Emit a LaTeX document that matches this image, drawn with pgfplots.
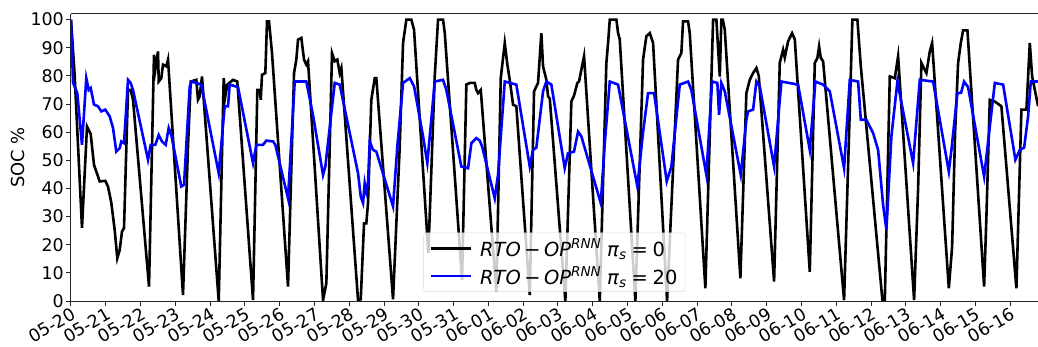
\documentclass[border=0pt]{standalone}
\usepackage{fontspec}
\setmainfont{DejaVu Sans}
\usepackage{pgfplots}
\pgfplotsset{compat=1.18}
\newcommand{\leg}[1]{\textit{RTO}\hspace{0.18em}−\hspace{0.18em}\textit{OP}\textsuperscript{\textit{RNN}}\hspace{0.3em}\textit{π}\textsubscript{\textit{s}}\hspace{0.25em}=\hspace{0.25em}#1}
\pgfplotstableread{
x y
0 100
0.106 80
0.316 26
0.460 62
0.566 59.4
0.661 48.4
0.825 42.5
0.986 42.7
1.064 40.7
1.159 34.9
1.256 25.3
1.331 15.2
1.400 18.1
1.466 24.7
1.524 25.9
1.639 75
1.716 75
1.783 71.5
2.243 5.1
2.386 87.5
2.424 82.2
2.501 88.7
2.522 78
2.596 79.2
2.645 84
2.740 83.4
2.789 85.8
3.220 2.1
3.364 55
3.442 78
3.603 78.6
3.651 71.5
3.700 72.7
3.766 79.8
4.247 0
4.390 79.2
4.436 72.7
4.494 76.9
4.658 78.6
4.781 78
5.233 0.3
5.357 75
5.434 75
5.454 71.5
5.492 80.4
5.587 81
5.635 99.4
5.693 99.4
5.779 88.1
6.239 5.1
6.412 81
6.478 85.8
6.527 92.9
6.622 93.5
6.699 85.8
6.765 84
6.814 85.2
7.246 0.3
7.341 6.3
7.504 88.1
7.582 85.2
7.657 85.8
7.726 81
7.772 82.8
8.252 0.3
8.330 0.6
8.424 27.6
8.490 27.6
8.539 34.8
8.634 71.5
8.732 79.2
8.778 79.2
9.258 0.6
9.451 55
9.546 91.7
9.641 100
9.784 100
9.862 96.4
10.273 17
10.457 79.8
10.552 100
10.696 100
10.745 95.3
11.242 7.5
11.366 76.9
11.463 77.5
11.607 77.5
11.653 75
11.702 73.9
11.780 75
12.228 3.3
12.355 79.2
12.421 86.4
12.470 91.7
12.545 84
12.613 78.6
12.708 69.8
12.803 69.2
13.189 2.1
13.312 74.5
13.427 77.5
13.522 95.2
13.571 83.4
13.666 78.6
13.715 72.7
13.764 72
14.212 0
14.385 70.9
14.462 73
14.557 77.5
14.606 78
14.672 82.2
14.750 87
15.201 0
15.391 84.6
15.440 91.7
15.489 100
15.679 100
15.727 95.3
15.776 92.9
16.225 0
16.446 85.8
16.541 94.1
16.639 95.2
16.734 91.7
17.136 0
17.452 85.8
17.547 88.1
17.596 99.4
17.740 99.4
17.789 95
18.237 4.5
18.459 100
18.554 100
18.602 90
18.652 79.8
18.697 100
18.738 100
18.795 96.4
19.244 8.1
19.416 73.9
19.514 78.6
19.609 81
19.704 82.8
19.773 80
20.213 6.9
20.376 84.6
20.472 89.3
20.520 86.5
20.615 92.3
20.730 95.2
20.808 93
21.239 10.4
21.383 84.6
21.458 86.4
21.507 90.5
21.555 86.4
21.622 85.2
22.225 0.3
22.389 68
22.464 100
22.608 100
22.706 83.4
23.327 0.3
23.396 0.3
23.539 79.8
23.683 79.2
23.778 87
24.238 0.3
24.353 40
24.448 84.6
24.592 81
24.689 88.7
24.756 91.7
25.236 4.5
25.331 19.3
25.417 60
25.503 84.6
25.580 91.7
25.647 96.2
25.771 96.2
26.251 5.1
26.317 30
26.414 71.5
26.558 70.9
26.748 69.2
27.179 4.5
27.323 68
27.467 68
27.564 91.7
27.631 79.8
27.688 76.3
27.803 69.2
}\blacktab
\pgfplotstableread{
x y
0 100
0.058 77.6
0.181 73.9
0.316 55.5
0.440 79.2
0.509 75
0.566 75.7
0.661 69.8
0.776 69.2
0.871 67.4
0.986 68
1.113 65.6
1.208 61.5
1.302 53.1
1.400 54.3
1.446 56.7
1.524 56.1
1.639 78.6
1.716 77.5
1.783 75
2.214 50.2
2.292 55.5
2.424 55.5
2.522 59
2.616 56.7
2.723 55.5
2.809 61.5
2.884 59
3.171 40.7
3.249 41.3
3.413 76.3
3.479 78
3.746 76.9
4.247 45.4
4.419 69.2
4.514 69.2
4.563 76.9
4.802 76
5.233 49
5.328 55.5
5.520 55.5
5.615 57
5.808 56.7
5.874 55.5
6.239 36.5
6.432 78
6.765 78
6.958 66
7.246 44.8
7.312 47.8
7.582 77.5
7.726 76.9
8.252 45.4
8.330 37.1
8.396 34.8
8.444 41.9
8.490 38.9
8.539 42
8.588 56.7
8.683 53.7
8.778 53.1
9.258 33.6
9.382 55
9.546 77.5
9.738 79.2
9.862 76.3
10.121 58.5
10.244 49
10.457 78
10.696 78.6
10.791 75
11.222 47.8
11.415 47.2
11.510 56.1
11.653 57.9
11.751 57
11.817 55
12.182 36.5
12.277 45
12.470 78
12.803 76.9
13.189 47.8
13.283 53.7
13.378 54.5
13.571 74.5
13.666 78
13.810 76.9
14.194 47.2
14.289 52.5
14.462 53.1
14.577 60.2
14.672 58.5
15.230 34.8
15.345 56
15.489 78
15.727 76.9
16.282 40.7
16.446 60
16.590 73.9
16.763 73.9
17.127 42.5
17.260 47.8
17.501 76.9
17.740 78
17.835 75
18.266 44.8
18.430 78
18.582 77.5
18.631 66.2
18.697 77.5
18.795 74.5
19.255 44.8
19.416 64.4
19.465 67.4
19.609 68
19.704 78
19.801 76.3
20.213 47.8
20.423 78
20.903 76.9
21.239 53.7
21.400 78
21.622 76.9
21.815 74.5
22.225 47.2
22.389 78.6
22.628 78
22.706 64.4
22.866 64.4
23.059 59.7
23.203 53.7
23.346 34.2
23.442 25.3
23.585 58.5
23.758 78
24.209 49
24.402 78.6
24.784 78
25.236 46
25.311 53.7
25.483 73.9
25.589 74
25.675 78
25.790 76
26.251 44.2
26.558 77.5
26.797 76.9
27.150 50.2
27.277 53.7
27.401 54.5
27.515 65.6
27.593 78
27.803 78
}\bluetab
\begin{document}
\begin{tikzpicture}
\begin{axis}[
  scale only axis,
  width=967bp, height=287bp,
  xmin=0, xmax=27.8, ymin=0, ymax=102,
  axis x line*=bottom, axis y line*=left,
  axis line style={black!85, line width=1bp},
  tick style={black!85, line width=1bp},
  tick align=outside, major tick length=5bp,
  xtick={0,1,...,27},
  xticklabels={05-20,05-21,05-22,05-23,05-24,05-25,05-26,05-27,05-28,05-29,05-30,05-31,06-01,06-02,06-03,06-04,06-05,06-06,06-07,06-08,06-09,06-10,06-11,06-12,06-13,06-14,06-15,06-16},
  ytick={0,10,...,100},
  /pgf/number format/assume math mode=true,
  tick label style={font=\fontsize{17.5}{20}\selectfont},
  xticklabel style={rotate=30, anchor=north east, inner sep=0.5bp},
  yticklabel style={inner sep=2bp},
  ylabel={SOC \%},
  ylabel style={font=\fontsize{18}{21}\selectfont, at={(rel axis cs:-0.0548,0.5)}, anchor=center},
  legend cell align=left,
  legend image code/.code={\draw[#1] (0bp,0bp) -- (40bp,0bp); \path (46bp,0bp);},
  legend style={at={(0.5,0.032)}, anchor=south, draw=black!15, rounded corners=3bp,
    fill=white, fill opacity=0.8, text opacity=1,
    font=\fontsize{19.5}{22}\selectfont, row sep=5bp, inner xsep=6bp, inner ysep=4bp},
]
\addplot[black, line width=2.6bp] table[x=x,y=y] {\blacktab};
\addlegendentry{\leg{0}}
\addplot[blue, line width=2.6bp] table[x=x,y=y] {\bluetab};
\addlegendentry{\leg{20}}
\draw[black!85, line width=1bp] (rel axis cs:0,1) -- (rel axis cs:1,1);
\coordinate (BL) at (rel axis cs:0,0);
\coordinate (TR) at (rel axis cs:1,1);
\end{axis}
\pgfresetboundingbox
\useasboundingbox ([shift={(-71bp,-46bp)}]BL) rectangle ([shift={(0bp,14bp)}]TR);
\end{tikzpicture}
\end{document}
